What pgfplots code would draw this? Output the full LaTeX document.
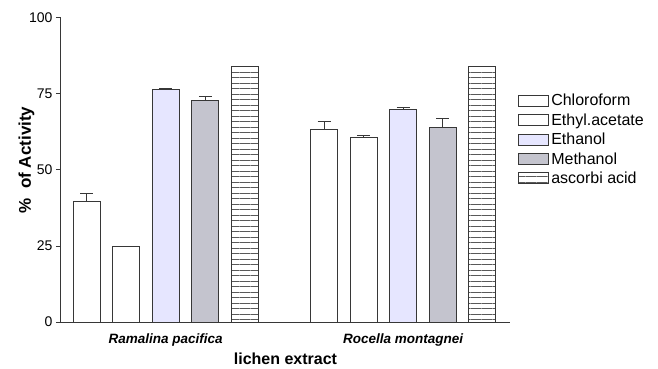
\documentclass[border=0pt]{standalone}
\usepackage{pgfplots}
\pgfplotsset{compat=1.18}
\usepackage{fontspec}
\setmainfont{Liberation Sans}
\usetikzlibrary{patterns.meta}
\definecolor{edge}{RGB}{55,55,55}
\definecolor{ethanol}{RGB}{230,230,255}
\definecolor{methanol}{RGB}{196,196,206}
\begin{document}
\begin{tikzpicture}
\useasboundingbox (-61bp,-47bp) rectangle (597bp,322bp);
\begin{axis}[
  scale only axis, width=449bp, height=304bp,
  xmin=-0.646, xmax=10.70, ymin=0, ymax=100,
  axis lines=left, axis line style={edge, line width=1bp, -},
  xtick={2,8}, xticklabels={\textbf{\textit{Ramalina pacifica}}, \textbf{\textit{Rocella montagnei}}},
  x tick label style={font=\fontsize{13.5bp}{16bp}\selectfont, yshift=-3bp},
  ytick={0,25,50,75,100},
  y tick label style={font=\fontsize{14bp}{16bp}\selectfont},
  /pgf/number format/assume math mode=true,
  tick style={edge, line width=1bp},
  xtick style={draw=none},
  tick align=outside, major tick length=5bp,
  ylabel={\textbf{\%\ \ of Activity}},
  ylabel style={font=\fontsize{17bp}{20bp}\selectfont, yshift=-12bp, xshift=10bp},
  xlabel={\textbf{lichen extract}},
  xlabel style={font=\fontsize{16bp}{19bp}\selectfont, yshift=0bp},
  bar width=27bp, ybar, bar shift=0pt,
  every axis plot/.append style={draw=edge, line width=1bp},
  error bars/error bar style={edge, line width=1bp},
  error bars/error mark options={rotate=90, mark size=6.5bp, line width=1bp, edge},
  legend style={at={(1.018,0.756)}, anchor=north west, draw=none, fill=none,
    font=\fontsize{16bp}{19bp}\selectfont, row sep=2.3bp, inner sep=0pt,
    legend cell align=left},
  legend image code/.code={\draw[#1] (0bp,-5.5bp) rectangle (30bp,5.5bp);},
]
\addplot[fill=white, error bars/.cd, y dir=plus, y explicit] coordinates {(0,39.5) +- (0,2.8) (6,63.2) +- (0,2.9)};
\addplot[fill=white, error bars/.cd, y dir=plus, y explicit] coordinates {(1,24.7) +- (0,0.3) (7,60.6) +- (0,0.9)};
\addplot[fill=ethanol, error bars/.cd, y dir=plus, y explicit] coordinates {(2,76.6) +- (0,0.3) (8,69.8) +- (0,0.9)};
\addplot[fill=methanol, error bars/.cd, y dir=plus, y explicit] coordinates {(3,73.0) +- (0,1.3) (9,64.0) +- (0,3.0)};
\addplot[pattern={Lines[angle=0, distance=5.5bp, line width=0.7bp]}, pattern color=gray!70!black] coordinates {(4,84.2) (10,84.2)};
\legend{Chloroform, Ethyl.acetate, Ethanol, Methanol, ascorbi acid}
\end{axis}
\end{tikzpicture}
\end{document}
